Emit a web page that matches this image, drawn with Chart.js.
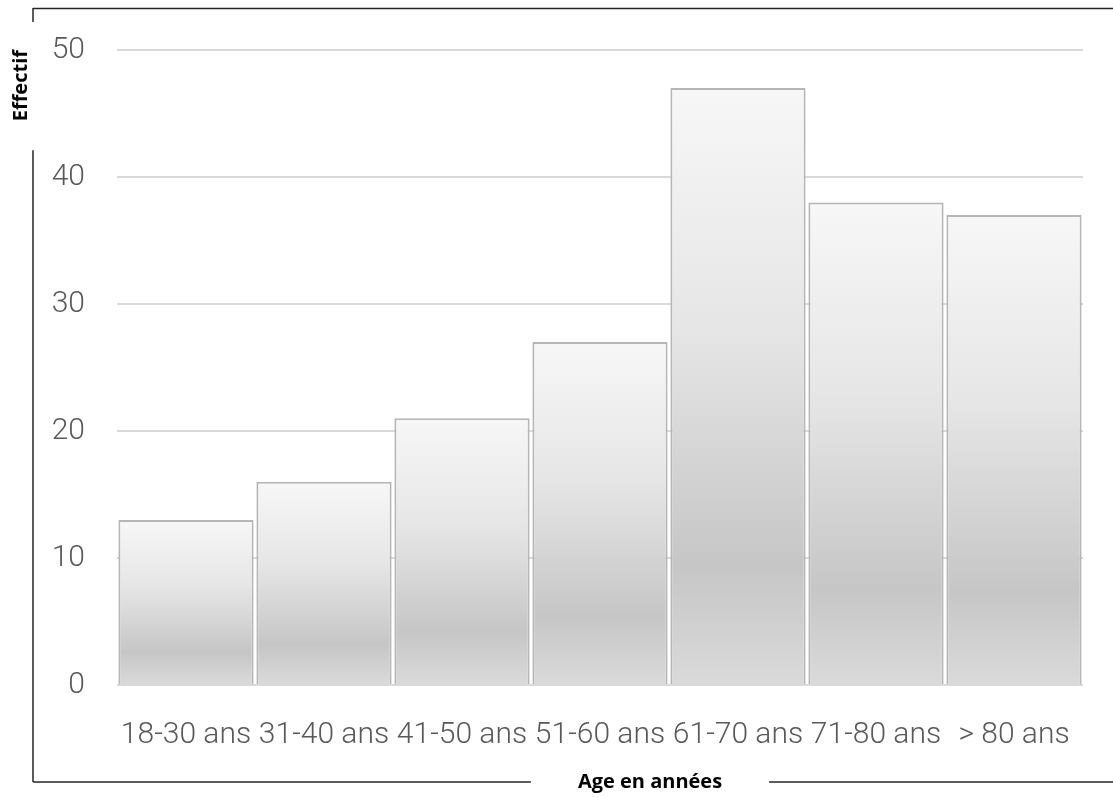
<!DOCTYPE html>
<html>
<head>
<meta charset="utf-8">
<script src="https://cdn.jsdelivr.net/npm/chart.js@4.4.1/dist/chart.umd.min.js"></script>
<style>
  html, body { margin: 0; padding: 0; background: #ffffff; }
  #wrap { width: 1113px; height: 798px; }
</style>
</head>
<body>
<div id="wrap"><canvas id="chart" width="1113" height="798"></canvas></div>
<script>
// Age groups and head counts
const categories = ['18-30 ans', '31-40 ans', '41-50 ans', '51-60 ans', '61-70 ans', '71-80 ans', '> 80 ans'];
const effectifs = [13, 16, 21, 27, 47, 38, 37];
const yTickValues = [0, 10, 20, 30, 40, 50];
const yTitle = 'Effectif';
const xTitle = 'Age en années';

const tickFont = { family: 'Roboto, "Open Sans", sans-serif', size: 30, weight: '300' };
const titleFont = 'bold 20px "Open Sans", "Liberation Sans", sans-serif';

// Vertical grey gradient for each bar, light at the top, darkest near the base
function barFill(ctx) {
  const chart = ctx.chart;
  if (!chart.chartArea || ctx.type !== 'data') return '#dcdcdc';
  const y = chart.scales.y;
  const v = ctx.parsed ? ctx.parsed.y : ctx.raw;
  const top = y.getPixelForValue(v);
  const base = y.getPixelForValue(0);
  const g = chart.ctx.createLinearGradient(0, top, 0, base);
  g.addColorStop(0, '#f7f7f7');
  g.addColorStop(0.4, '#e6e6e6');
  g.addColorStop(0.8, '#c6c6c6');
  g.addColorStop(1, '#dadada');
  return g;
}

// Outer frame with the two axis titles set into it
const framePlugin = {
  id: 'frame',
  afterDraw(chart) {
    const c = chart.ctx;
    c.save();
    c.font = titleFont;
    c.fillStyle = '#000000';
    c.textBaseline = 'middle';
    c.textAlign = 'center';

    const xw = c.measureText(xTitle).width;
    const xcx = 650, xcy = 782;
    c.fillText(xTitle, xcx, xcy);

    const yw = c.measureText(yTitle).width;
    const ycx = 21, ycy = chart.chartArea.top + yw / 2;
    c.save();
    c.translate(ycx, ycy);
    c.rotate(-Math.PI / 2);
    c.fillText(yTitle, 0, 0);
    c.restore();

    c.strokeStyle = '#262626';
    c.lineWidth = 1.5;
    c.beginPath();
    // top edge
    c.moveTo(33, 8.5); c.lineTo(1113, 8.5);
    // left edge, broken around the vertical title
    c.moveTo(33, 8); c.lineTo(33, ycy - yw / 2 - 28);
    c.moveTo(33, ycy + yw / 2 + 29); c.lineTo(33, 782);
    // bottom edge, broken around the horizontal title
    c.moveTo(33, 782); c.lineTo(xcx - xw / 2 - 47, 782);
    c.moveTo(xcx + xw / 2 + 47, 782); c.lineTo(1113, 782);
    c.stroke();
    c.restore();
  }
};

new Chart(document.getElementById('chart'), {
  type: 'bar',
  data: {
    labels: categories,
    datasets: [{
      data: effectifs,
      backgroundColor: barFill,
      borderColor: '#b6b6b6',
      borderWidth: { top: 2, left: 2, right: 2, bottom: 0 },
      borderSkipped: 'bottom',
      barPercentage: 0.98,
      categoryPercentage: 1.0
    }]
  },
  options: {
    responsive: false,
    animation: false,
    devicePixelRatio: 1,
    layout: { padding: { top: 50, right: 30, bottom: 0, left: 0 } },
    plugins: { legend: { display: false }, tooltip: { enabled: false }, title: { display: false } },
    scales: {
      x: {
        grid: { display: false, drawTicks: false },
        border: { display: false },
        ticks: { color: '#595959', font: tickFont, padding: 32, maxRotation: 0, minRotation: 0, autoSkip: false },
        afterFit(scale) { scale.height = 113; }
      },
      y: {
        min: 0,
        max: 50,
        grid: { color: '#d9d9d9', lineWidth: 2, drawTicks: false },
        border: { display: false },
        afterBuildTicks(scale) { scale.ticks = yTickValues.map(v => ({ value: v })); },
        ticks: { color: '#595959', font: tickFont, padding: 32 },
        afterFit(scale) { scale.width = 117; }
      }
    }
  },
  plugins: [framePlugin]
});
</script>
</body>
</html>
